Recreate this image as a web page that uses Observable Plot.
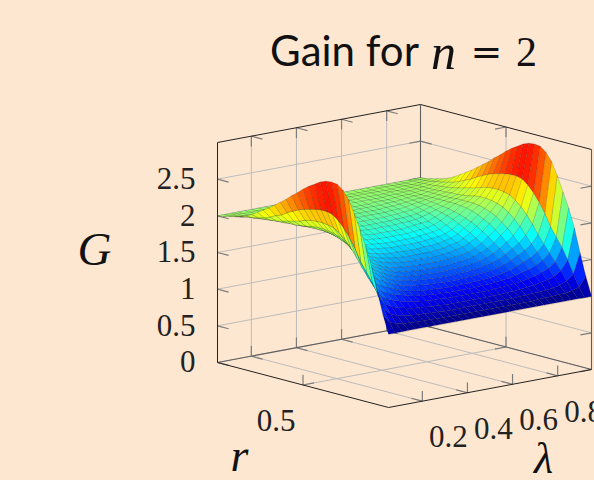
<!DOCTYPE html>
<html><head><meta charset="utf-8">
<script src="https://cdn.jsdelivr.net/npm/d3@7"></script>
<script src="https://cdn.jsdelivr.net/npm/@observablehq/plot@0.6"></script>
<style>html,body{margin:0;padding:0;background:#fee7d0;overflow:hidden}svg{display:block;background:transparent!important}</style>
</head><body><div id="chart"></div>
<script>
const title = "Gain for";
const gTicks = [0,0.5,1,1.5,2,2.5];
const lambdaTicks = [0.2,0.4,0.6,0.8];
const rTicks = [0.5];
const rSamples = [0,.0333,.0667,.1,.1333,.1667,.2,.2333,.2667,.3,.3333,.3667,.4,.4333,.4667,.5,.5333,.5667,.6,.6333,.6667,.7,.7333,.7667,.8,.8333,.8667,.9,.9333,.9667,1];
const lambdaSamples = [.05,.08,.11,.14,.17,.2,.23,.26,.29,.32,.35,.38,.41,.44,.47,.5,.53,.56,.59,.62,.65,.68,.71,.74,.77,.8,.83,.86,.89,.92,.95];
const jetStops = [1,1.2375,1.7125,2.1875,2.6625,2.9];
const jetColors = ["#000080","#0000ff","#00ffff","#ffff00","#ff0000","#800000"];
const G05=[1,1.25,1.55,1.87,2.12,2.32,2.52,2.69,2.80,2.86,2.87,2.86,2.83,2.78,2.73,2.67,2.60,2.54,2.47,2.41,2.35,2.29,2.24,2.19,2.14,2.10,2.07,2.05,2.03,2.01,2];
const G08=[1,1.12,1.28,1.45,1.6,1.72,1.84,2.0,2.13,2.24,2.33,2.39,2.41,2.41,2.40,2.38,2.36,2.33,2.29,2.25,2.20,2.17,2.13,2.10,2.08,2.06,2.05,2.03,2.02,2.01,2];
const G11=[1,1.09,1.2,1.32,1.42,1.52,1.62,1.73,1.85,1.96,2.05,2.12,2.17,2.19,2.20,2.20,2.19,2.17,2.14,2.12,2.10,2.08,2.06,2.05,2.04,2.03,2.02,2.02,2.01,2.01,2];
const G14=[1,1.07,1.16,1.26,1.35,1.44,1.53,1.62,1.72,1.82,1.90,1.97,2.02,2.05,2.07,2.08,2.08,2.07,2.05,2.04,2.03,2.03,2.02,2.02,2.01,2.01,2.01,2.01,2,2,2];
const G17=[1,1.07,1.14,1.23,1.31,1.39,1.47,1.55,1.63,1.71,1.79,1.85,1.91,1.95,1.98,2,2.01,2.01,2.01,2.01,2,2,2,2,2,2,2,2,2,2,2];
const G20=[1,1.06,1.13,1.21,1.28,1.35,1.43,1.50,1.57,1.64,1.71,1.77,1.83,1.87,1.91,1.94,1.96,1.97,1.98,1.98,1.98,1.98,1.98,1.98,1.98,1.99,1.99,1.99,2,2,2];
const G23=[1,1.06,1.12,1.19,1.26,1.33,1.39,1.45,1.51,1.57,1.63,1.69,1.74,1.79,1.83,1.86,1.89,1.91,1.93,1.94,1.95,1.96,1.97,1.97,1.98,1.98,1.99,1.99,1.99,2,2];
const G26=[1,1.06,1.12,1.18,1.24,1.30,1.35,1.41,1.46,1.52,1.57,1.62,1.67,1.72,1.76,1.80,1.84,1.87,1.89,1.91,1.93,1.94,1.95,1.96,1.97,1.98,1.98,1.99,1.99,2,2];
const G29=[1,1.05,1.11,1.17,1.23,1.28,1.33,1.38,1.43,1.48,1.53,1.57,1.62,1.66,1.70,1.74,1.78,1.82,1.85,1.88,1.90,1.92,1.94,1.95,1.96,1.97,1.98,1.98,1.99,1.99,2];
const G32=[1,1.05,1.11,1.16,1.22,1.27,1.31,1.36,1.41,1.45,1.49,1.53,1.58,1.62,1.66,1.70,1.74,1.78,1.81,1.85,1.87,1.90,1.92,1.94,1.95,1.96,1.97,1.98,1.99,1.99,2];
const G35=[1,1.05,1.10,1.16,1.21,1.26,1.30,1.35,1.39,1.43,1.47,1.51,1.56,1.60,1.64,1.68,1.72,1.76,1.80,1.83,1.86,1.89,1.91,1.93,1.95,1.96,1.97,1.98,1.99,1.99,2];
const G38=[1,1.05,1.10,1.15,1.21,1.25,1.29,1.34,1.38,1.42,1.46,1.50,1.54,1.58,1.62,1.67,1.71,1.75,1.79,1.82,1.85,1.88,1.91,1.93,1.94,1.96,1.97,1.98,1.99,1.99,2];
const G41=[1,1.05,1.10,1.15,1.20,1.25,1.29,1.33,1.37,1.41,1.45,1.49,1.53,1.57,1.61,1.66,1.70,1.74,1.78,1.82,1.85,1.88,1.90,1.92,1.94,1.95,1.97,1.98,1.99,1.99,2];
const G44=[1,1.05,1.10,1.15,1.20,1.24,1.28,1.33,1.37,1.41,1.44,1.48,1.52,1.56,1.61,1.65,1.69,1.73,1.77,1.81,1.84,1.87,1.90,1.92,1.94,1.95,1.97,1.98,1.99,1.99,2];
const G47=[1,1.05,1.10,1.15,1.20,1.24,1.28,1.32,1.36,1.40,1.44,1.48,1.52,1.56,1.60,1.65,1.69,1.73,1.77,1.81,1.84,1.87,1.90,1.92,1.94,1.95,1.97,1.98,1.99,1.99,2];
const G50=[1,1.05,1.10,1.15,1.20,1.24,1.28,1.32,1.36,1.40,1.44,1.48,1.52,1.56,1.60,1.65,1.69,1.73,1.77,1.81,1.84,1.87,1.90,1.92,1.94,1.95,1.97,1.98,1.99,1.99,2];
const G53=[1,1.05,1.10,1.15,1.20,1.24,1.28,1.32,1.36,1.40,1.44,1.48,1.52,1.56,1.60,1.65,1.69,1.73,1.77,1.81,1.84,1.87,1.90,1.92,1.94,1.95,1.97,1.98,1.99,1.99,2];
const G56=[1,1.05,1.10,1.15,1.20,1.24,1.28,1.33,1.37,1.41,1.44,1.48,1.52,1.56,1.61,1.65,1.69,1.73,1.77,1.81,1.84,1.87,1.90,1.92,1.94,1.95,1.97,1.98,1.99,1.99,2];
const G59=[1,1.05,1.10,1.15,1.20,1.25,1.29,1.33,1.37,1.41,1.45,1.49,1.53,1.57,1.61,1.66,1.70,1.74,1.78,1.82,1.85,1.88,1.90,1.92,1.94,1.95,1.97,1.98,1.99,1.99,2];
const G62=[1,1.05,1.10,1.15,1.21,1.25,1.29,1.34,1.38,1.42,1.46,1.50,1.54,1.58,1.62,1.67,1.71,1.75,1.79,1.82,1.85,1.88,1.91,1.93,1.94,1.96,1.97,1.98,1.99,1.99,2];
const G65=[1,1.05,1.10,1.16,1.21,1.26,1.30,1.35,1.39,1.43,1.47,1.51,1.56,1.60,1.64,1.68,1.72,1.76,1.80,1.83,1.86,1.89,1.91,1.93,1.95,1.96,1.97,1.98,1.99,1.99,2];
const G68=[1,1.05,1.11,1.16,1.22,1.27,1.31,1.36,1.41,1.45,1.49,1.53,1.58,1.62,1.66,1.70,1.74,1.78,1.81,1.85,1.87,1.90,1.92,1.94,1.95,1.96,1.97,1.98,1.99,1.99,2];
const G71=[1,1.05,1.11,1.17,1.23,1.28,1.33,1.38,1.43,1.48,1.53,1.57,1.62,1.66,1.70,1.74,1.78,1.82,1.85,1.88,1.90,1.92,1.94,1.95,1.96,1.97,1.98,1.98,1.99,1.99,2];
const G74=[1,1.06,1.12,1.18,1.24,1.30,1.35,1.41,1.46,1.52,1.57,1.62,1.67,1.72,1.76,1.80,1.84,1.87,1.89,1.91,1.93,1.94,1.95,1.96,1.97,1.98,1.98,1.99,1.99,2,2];
const G77=[1,1.06,1.12,1.19,1.26,1.33,1.39,1.45,1.51,1.57,1.63,1.69,1.74,1.79,1.83,1.86,1.89,1.91,1.93,1.94,1.95,1.96,1.97,1.97,1.98,1.98,1.99,1.99,1.99,2,2];
const G80=[1,1.06,1.13,1.21,1.28,1.35,1.43,1.50,1.57,1.64,1.71,1.77,1.83,1.87,1.91,1.94,1.96,1.97,1.98,1.98,1.98,1.98,1.98,1.98,1.98,1.99,1.99,1.99,2,2,2];
const G83=[1,1.07,1.14,1.23,1.31,1.39,1.47,1.55,1.63,1.71,1.79,1.85,1.91,1.95,1.98,2,2.01,2.01,2.01,2.01,2,2,2,2,2,2,2,2,2,2,2];
const G86=[1,1.07,1.16,1.26,1.35,1.44,1.53,1.62,1.72,1.82,1.90,1.97,2.02,2.05,2.07,2.08,2.08,2.07,2.05,2.04,2.03,2.03,2.02,2.02,2.01,2.01,2.01,2.01,2,2,2];
const G89=[1,1.09,1.2,1.32,1.42,1.52,1.62,1.73,1.85,1.96,2.05,2.12,2.17,2.19,2.20,2.20,2.19,2.17,2.14,2.12,2.10,2.08,2.06,2.05,2.04,2.03,2.02,2.02,2.01,2.01,2];
const G92=[1,1.12,1.28,1.45,1.6,1.72,1.84,2.0,2.13,2.24,2.33,2.39,2.41,2.41,2.40,2.38,2.36,2.33,2.29,2.25,2.20,2.17,2.13,2.10,2.08,2.06,2.05,2.03,2.02,2.01,2];
const G95=[1,1.25,1.55,1.87,2.12,2.32,2.52,2.69,2.80,2.86,2.87,2.86,2.83,2.78,2.73,2.67,2.60,2.54,2.47,2.41,2.35,2.29,2.24,2.19,2.14,2.10,2.07,2.05,2.03,2.01,2];
const columns=[G05,G08,G11,G14,G17,G20,G23,G26,G29,G32,G35,G38,G41,G44,G47,G50,G53,G56,G59,G62,G65,G68,G71,G74,G77,G80,G83,G86,G89,G92,G95];

const rEnd=[0,1], lEnd=[.05,.95], gEnd=[0,3];
const ax=-171, ay=45, bx=203/.9, by=38/.9, cy=73.33;
const X=(r,l)=>ax*r+bx*(l-lEnd[0]);
const Y=(r,l,g)=>ay*r+by*(l-lEnd[0])+cy*g;

const cells=[];
for(let j=lambdaSamples.length-2;j>=0;j--) for(let i=rSamples.length-2;i>=0;i--){
  const meta=(columns[j][i]+columns[j+1][i]+columns[j][i+1]+columns[j+1][i+1])/4;
  for(const [a,b] of [[i,j],[i+1,j],[i+1,j+1],[i,j+1]])
    cells.push({cell:j*100+i,meta,x:X(rSamples[a],lambdaSamples[b]),y:Y(rSamples[a],lambdaSamples[b],columns[b][a])});
}
const seg=(p,q)=>({x1:X(p[0],p[1]),y1:Y(...p),x2:X(q[0],q[1]),y2:Y(...q)});
const R1=rEnd[1],R0=rEnd[0],L0=lEnd[0],L1=lEnd[1],Z0=gEnd[0],Z1=gEnd[1];
const tr=.065,tl=.049,tg=.14;
const grid=[],ticks=[];
for(const g of gTicks){
  grid.push(seg([R1,L0,g],[R1,L1,g]),seg([R1,L1,g],[R0,L1,g]));
  ticks.push(seg([R1,L0,g],[R1-tr,L0,g]),seg([R1,L1,g],[R1,L1-tl,g]),seg([R1,L1,g],[R1-tr,L1,g]),seg([R0,L1,g],[R0,L1-tl,g]));
}
for(const l of lambdaTicks){
  grid.push(seg([R1,l,Z0],[R1,l,Z1]),seg([R1,l,Z0],[R0,l,Z0]));
  ticks.push(seg([R1,l,Z1],[R1,l,Z1-tg]),seg([R1,l,Z1],[R1-tr,l,Z1]),seg([R1,l,Z0],[R1,l,Z0+tg]),seg([R1,l,Z0],[R1-tr,l,Z0]),seg([R0,l,Z0],[R0,l,Z0+tg]),seg([R0,l,Z0],[R0+tr,l,Z0]));
}
for(const r of rTicks){
  grid.push(seg([r,L1,Z0],[r,L1,Z1]),seg([r,L1,Z0],[r,L0,Z0]));
  ticks.push(seg([r,L1,Z1],[r,L1,Z1-tg]),seg([r,L1,Z1],[r,L1-tl,Z1]),seg([r,L1,Z0],[r,L1,Z0+tg]),seg([r,L1,Z0],[r,L1-tl,Z0]),seg([r,L0,Z0],[r,L0,Z0+tg]),seg([r,L0,Z0],[r,L0+tl,Z0]));
}
const box=[seg([R1,L0,Z1],[R1,L1,Z1]),seg([R1,L1,Z1],[R0,L1,Z1]),seg([R1,L0,Z0],[R0,L0,Z0]),seg([R0,L0,Z0],[R0,L1,Z0]),seg([R1,L0,Z0],[R1,L0,Z1])];
const boxBack=[seg([R1,L0,Z0],[R1,L1,Z0]),seg([R1,L1,Z0],[R0,L1,Z0]),seg([R1,L1,Z0],[R1,L1,Z1]),seg([R0,L1,Z0],[R0,L1,Z1])];

const serif="'Liberation Serif',serif", sans="Lato,sans-serif";
const fmt=v=>String(v);
const label=(s,dx,dy,opts)=>Plot.text([s],{frameAnchor:"top-left",lineAnchor:"middle",textAnchor:"middle",dx,dy,text:d=>d,fontFamily:serif,fill:"#111",...opts});
const chart=Plot.plot({
  width:594,height:480,margin:0,
  x:{domain:[-388,206],range:[0,594],axis:null},
  y:{domain:[-73,407],range:[480,0],axis:null},
  color:{type:"linear",domain:jetStops,range:jetColors},
  marks:[
    Plot.link(grid,{x1:"x1",y1:"y1",x2:"x2",y2:"y2",stroke:"#bcbcbc",strokeWidth:1}),
    Plot.link(ticks,{x1:"x1",y1:"y1",x2:"x2",y2:"y2",stroke:"#7d7d7d",strokeWidth:1.2}),
    Plot.link(boxBack,{x1:"x1",y1:"y1",x2:"x2",y2:"y2",stroke:"#5f5f5f",strokeWidth:1.1}),
    Plot.link(box,{x1:"x1",y1:"y1",x2:"x2",y2:"y2",stroke:"#222",strokeWidth:1}),
    Plot.line(cells,{x:"x",y:"y",z:"cell",fill:"meta",stroke:"black",strokeOpacity:.15,strokeWidth:1,curve:"linear-closed"}),
    Plot.text(gTicks,{x:()=>X(R1,L0),y:g=>Y(R1,L0,g),text:fmt,dx:-22,textAnchor:"end",fontFamily:serif,fontSize:31,fill:"#222"}),
    Plot.text(lambdaTicks,{x:l=>X(R0,l),y:l=>Y(R0,l,Z0),text:fmt,dx:26,dy:36,fontFamily:serif,fontSize:31,fill:"#222"}),
    Plot.text(rTicks,{x:r=>X(r,L0),y:r=>Y(r,L0,Z0),text:fmt,dx:-27,dy:36,fontFamily:serif,fontSize:31,fill:"#222"}),
    label("G",94,249,{fontStyle:"italic",fontSize:47}),
    label("r",239,456,{fontStyle:"italic",fontSize:46}),
    label("λ",543,458,{fontStyle:"italic",fontSize:44}),
    label(title,344,52,{fontFamily:sans,fontSize:42}),
    label("n",443,52,{fontStyle:"italic",fontSize:50}),
    label("=",486,52,{fontFamily:"'DejaVu Serif',serif",fontSize:38}),
    label("2",526,52,{fontSize:42})
  ]
});
document.getElementById("chart").append(chart);
</script></body></html>
